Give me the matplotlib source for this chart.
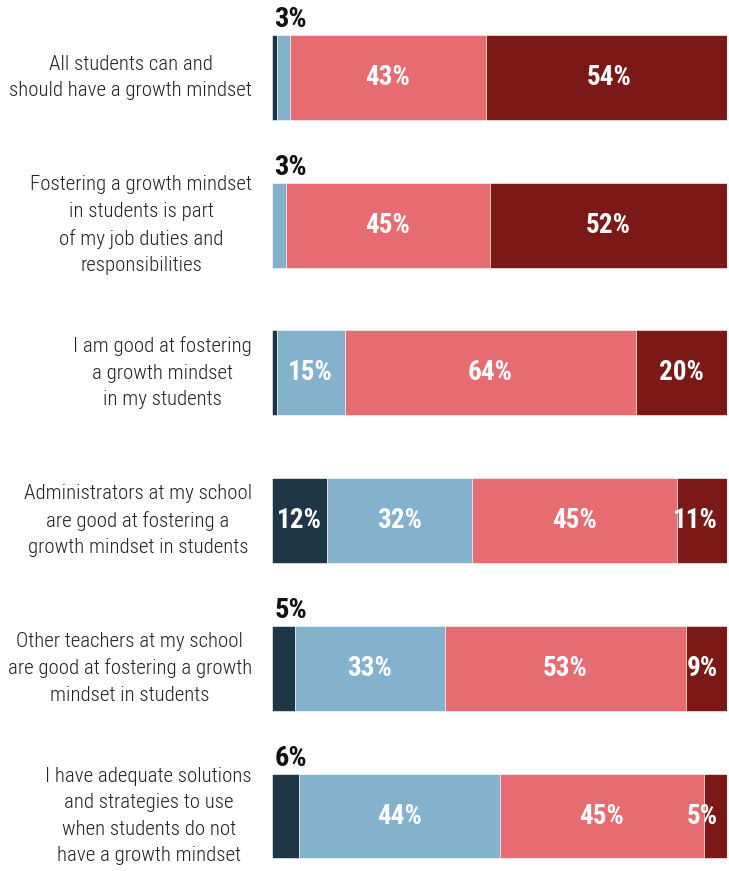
import numpy as np
import matplotlib
matplotlib.use("Agg")
import matplotlib.pyplot as plt
from matplotlib import font_manager

# pick a narrow face if one is installed
names = set(f.name for f in font_manager.fontManager.ttflist)
label_font = "Roboto"
for cand in ["Roboto Condensed", "Liberation Sans Narrow", "Roboto"]:
    if cand in names:
        label_font = cand
        break

categories = [
    "All students can and\nshould have a growth mindset",
    "Fostering a growth mindset\nin students is part\nof my job duties and\nresponsibilities",
    "I am good at fostering\na growth mindset\nin my students",
    "Administrators at my school\nare good at fostering a\ngrowth mindset in students",
    "Other teachers at my school\nare good at fostering a growth\nmindset in students",
    "I have adequate solutions\nand strategies to use\nwhen students do not\nhave a growth mindset",
]
strongly_disagree = [1, 0, 1, 12, 5, 6]
disagree = [3, 3, 15, 32, 33, 44]
agree = [43, 45, 64, 45, 53, 45]
strongly_agree = [54, 52, 20, 11, 9, 5]

colors = ["#1f3647", "#84b1cc", "#e66c71", "#7a1917"]
series = [strongly_disagree, disagree, agree, strongly_agree]

fig = plt.figure(figsize=(7.29, 8.71), dpi=100)
ax = fig.add_axes([272 / 729, 0, 455 / 729, 1])

y = np.arange(len(categories))
left = np.zeros(len(categories))
for k, (vals, c) in enumerate(zip(series, colors)):
    vals = np.array(vals, dtype=float)
    ax.barh(y, vals, left=left, height=0.575, color=c,
            edgecolor="white", linewidth=0.4)
    for i, v in enumerate(vals):
        if v == 0:
            continue
        if k < 2 and v < 8:
            # small left segments get their label above the bar
            if v >= 2:
                ax.text(0.5, y[i] - 0.30, f"{int(v)}%", ha="left", va="bottom",
                        fontsize=20.5, fontweight="bold", color="#111111",
                        family=label_font)
            continue
        if k == 3 and v < 12:
            ax.text(98, y[i], f"{int(v)}%", ha="right", va="center",
                    fontsize=19.5, fontweight="bold", color="white",
                    family=label_font)
        else:
            ax.text(left[i] + v / 2, y[i], f"{int(v)}%", ha="center",
                    va="center", fontsize=19.5, fontweight="bold",
                    color="white", family=label_font)
    left += vals

for i, cat in enumerate(categories):
    ax.text(-20 / 4.55, y[i], cat, ha="right", va="center",
            multialignment="center", fontsize=15, fontweight="light",
            color="#222222", linespacing=1.5, family=label_font)

ax.set_xlim(0, 100)
ax.set_ylim(5 + 55 / 147.7, -77.5 / 147.7)
ax.axis("off")

fig.savefig("out.png", dpi=100)
